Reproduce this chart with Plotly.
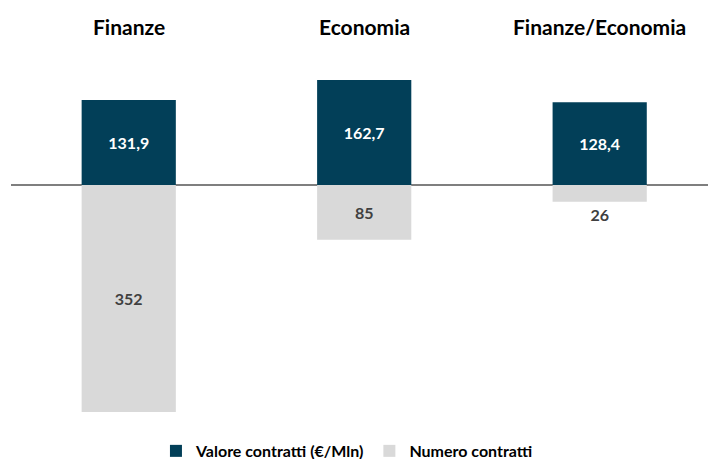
import plotly.graph_objects as go

categories = ["Finanze", "Economia", "Finanze/Economia"]
valore_contratti = [131.9, 162.7, 128.4]
numero_contratti = [352, 85, 26]

valore_labels = [f"{v:.1f}".replace(".", ",") for v in valore_contratti]
numero_labels = [str(v) for v in numero_contratti]

DARK = "#023F58"
LIGHT = "#D9D9D9"
FONT = "Lato"

x_idx = list(range(len(categories)))

fig = go.Figure()
fig.add_trace(go.Bar(
    x=x_idx, y=valore_contratti, name="Valore contratti (€/Mln)",
    marker=dict(color=DARK, line=dict(width=0)), width=0.4,
    text=valore_labels, textposition="inside", insidetextanchor="middle",
    textfont=dict(color="white", size=16, family=FONT, weight="bold"),
    cliponaxis=False,
))
fig.add_trace(go.Bar(
    x=x_idx, y=[-v for v in numero_contratti], name="Numero contratti",
    marker=dict(color=LIGHT, line=dict(width=0)), width=0.4,
    text=numero_labels,
    textposition=["inside", "inside", "outside"], insidetextanchor="middle",
    textfont=dict(color="#404040", size=16, family=FONT, weight="bold"),
    cliponaxis=False,
))

# category headings above each pair of bars
for i, c in enumerate(categories):
    fig.add_annotation(x=i, y=1.0, xref="x", yref="paper", yanchor="bottom",
                       yshift=19, text=f"<b>{c}</b>", showarrow=False,
                       font=dict(family=FONT, size=21, color="black"))

fig.update_layout(
    width=708, height=459,
    barmode="relative",
    margin=dict(l=11, r=0, t=60, b=39, autoexpand=False),
    plot_bgcolor="white", paper_bgcolor="white",
    font=dict(family=FONT),
    xaxis=dict(range=[-0.5, 2.46], showticklabels=False, showgrid=False,
               zeroline=False, showline=False),
    yaxis=dict(range=[-364.3, 193.8], showticklabels=False, showgrid=False,
               zeroline=True, zerolinecolor="#7F7F7F", zerolinewidth=1.5,
               showline=False),
    showlegend=True,
    legend=dict(orientation="h", x=0.482, xanchor="center", y=-0.086, yanchor="middle",
                font=dict(family=FONT, size=16, color="black", weight="bold"),
                itemwidth=30, traceorder="normal"),
    uniformtext=dict(mode=False),
)

fig.write_html("out.html")
